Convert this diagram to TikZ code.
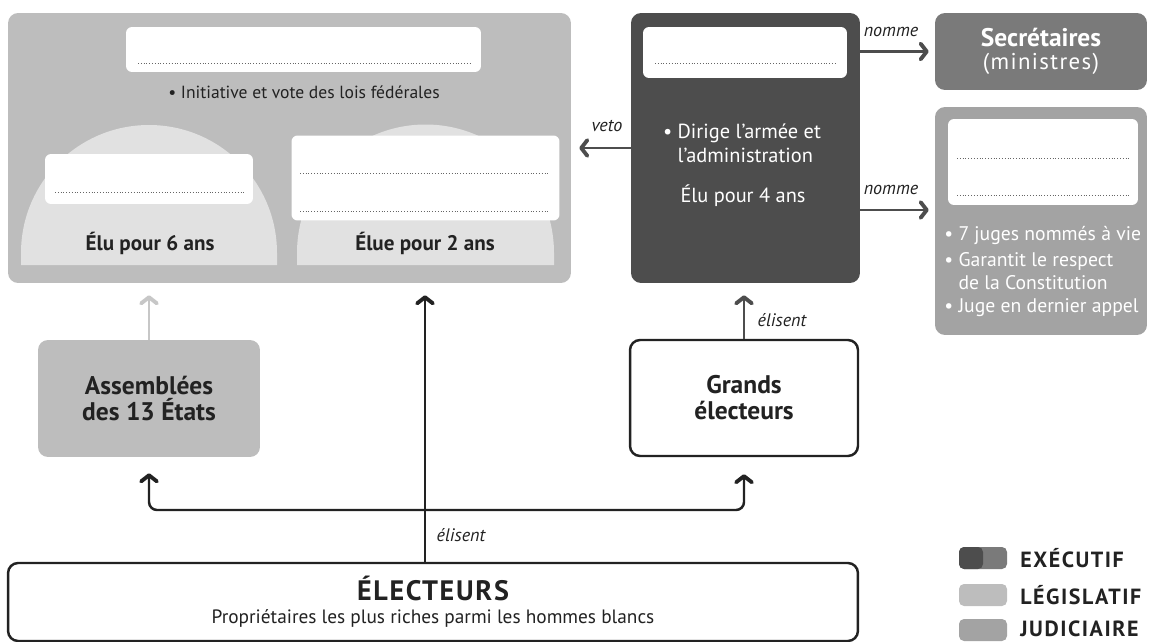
\documentclass[tikz,border=0pt]{standalone}
\usepackage{fontspec}
\setmainfont{PT Sans}
\usetikzlibrary{arrows.meta,positioning}
\definecolor{colExe}{HTML}{4D4D4D}
\definecolor{colExeClair}{HTML}{7A7A7A}
\definecolor{colLegis}{HTML}{BDBDBD}
\definecolor{colJudic}{HTML}{A3A3A3}
\definecolor{colDome}{HTML}{E1E1E1}
\definecolor{colEncre}{HTML}{222222}
\definecolor{colPoint}{HTML}{666666}

\tikzset{
  bloc/.style={rounded corners=0.2cm, inner sep=0pt, align=center},
  blanc/.style={fill=white, rounded corners=0.12cm, inner sep=0pt},
  txt/.style={text=colEncre, inner sep=0pt, font=\fontsize{10}{12}\selectfont},
  txtgras/.style={txt, font=\fontsize{12}{14}\selectfont\bfseries},
  txtblanc/.style={text=white, inner sep=0pt, font=\fontsize{11.6}{13.6}\selectfont},
  titre/.style={text=colEncre, font=\fontsize{14.5}{14.8}\selectfont\bfseries},
  etiq/.style={text=colEncre, inner sep=0pt, font=\fontsize{10.3}{12}\selectfont\itshape},
  pointille/.style={draw=colPoint, line width=0.5pt, dash pattern=on 0.5pt off 1.1pt},
  fleche/.style={draw=colEncre, line width=1.4pt,
    -{Straight Barb[length=3.5pt,width=9pt,line width=2.2pt,round]}},
  swatch/.style={rounded corners=0.1cm, minimum width=0.96cm, minimum height=0.44cm, inner sep=0pt},
  legende/.style={anchor=west, inner sep=0pt, text=colEncre,
    font=\fontsize{12.5}{14}\selectfont\bfseries\addfontfeature{LetterSpace=7}}
}

\begin{document}
\begin{tikzpicture}[x=0.02cm, y=-0.02cm]
    \useasboundingbox (0,0) rectangle (1149,642);

    % pouvoir legislatif
    \node[bloc, fill=colLegis, minimum width=11.26cm, minimum height=5.4cm] (legis) at (289.5,148) {};
    \fill[colDome] (21,265) -- (21,253) arc[start angle=180, end angle=360, radius=128] -- (277,265) -- cycle;
    \fill[colDome] (297,265) -- (297,253) arc[start angle=180, end angle=360, radius=128.5] -- (554,265) -- cycle;
    \node[blanc, minimum width=7.1cm, minimum height=0.9cm] (congres) at (303.5,49.5) {};
    \draw[pointille] (138,63) -- (470,63);
    \node[txt] (lois) at (304,92) {\textbullet\ Initiative et vote des lois fédérales};
    \node[blanc, minimum width=4.16cm, minimum height=1cm] (senat) at (149,179) {};
    \draw[pointille] (55,192) -- (244,192);
    \node[blanc, minimum width=5.36cm, minimum height=1.7cm] (chambre) at (425.5,178) {};
    \draw[pointille] (300,173) -- (550,173);
    \draw[pointille] (300,211) -- (550,211);
    \node[txtgras] (senat-mandat) at (150,243) {Élu pour 6 ans};
    \node[txtgras] (chambre-mandat) at (425,243) {Élue pour 2 ans};

    % pouvoir executif
    \node[bloc, fill=colExe, minimum width=4.58cm, minimum height=5.4cm] (exec) at (745.5,148) {};
    \node[blanc, minimum width=4.08cm, minimum height=1.02cm] (president) at (745,52.5) {};
    \draw[pointille] (655,63) -- (835,63);
    \node[txtblanc, align=left] (armee) at (742,143) {\textbullet\ Dirige l’armée et\\\phantom{\textbullet\ }l’administration};
    \node[txtblanc] (exec-mandat) at (743,196) {Élu pour 4 ans};

    \node[bloc, fill=colExeClair, minimum width=4.24cm, minimum height=1.54cm, text=white] (secretaires) at (1041,51.5)
        {{\fontsize{14.5}{16}\selectfont\bfseries Secrétaires}\\[1pt]{\fontsize{13}{15}\selectfont\addfontfeature{LetterSpace=6}(ministres)}};

    % pouvoir judiciaire
    \node[bloc, fill=colJudic, minimum width=4.24cm, minimum height=4.56cm] (juges) at (1041,221) {};
    \node[blanc, minimum width=3.8cm, minimum height=1.72cm] (cour) at (1043,162) {};
    \draw[pointille] (957,158) -- (1130,158);
    \draw[pointille] (957,195) -- (1130,195);
    \node[txtblanc, anchor=west, font=\fontsize{11.2}{13}\selectfont] (juge-1) at (944,235) {\textbullet\ 7 juges nommés à vie};
    \node[txtblanc, anchor=west, align=left, font=\fontsize{11.2}{13}\selectfont] (juge-2) at (944,271.5)
        {\textbullet\ Garantit le respect\\\phantom{\textbullet\ }de la Constitution};
    \node[txtblanc, anchor=west, font=\fontsize{11.2}{13}\selectfont] (juge-3) at (944,308) {\textbullet\ Juge en dernier appel};

    % electeurs
    \node[bloc, titre, fill=colLegis, minimum width=4.44cm, minimum height=2.34cm] (assemblees) at (149,398.5) {Assemblées\\des 13 États};
    \node[bloc, titre, draw=colEncre, line width=1.4pt, fill=white, minimum width=4.56cm, minimum height=2.32cm] (grands) at (744,398) {Grands\\électeurs};
    \node[bloc, draw=colEncre, line width=1.4pt, fill=white, minimum width=17cm, minimum height=1.56cm, text=colEncre] (electeurs) at (433,602)
        {{\fontsize{16}{17}\selectfont\bfseries\addfontfeature{LetterSpace=6}ÉLECTEURS}\\[1pt]{\fontsize{11}{13}\selectfont Propriétaires les plus riches parmi les hommes blancs}};

    \coordinate (fourche) at (425,510);
    \draw[fleche, shorten >=0.24cm] (fourche |- electeurs.north) -- (fourche |- legis.south);
    \draw[fleche, rounded corners=0.16cm, shorten >=0.32cm] (fourche) -| (assemblees.south);
    \draw[fleche, rounded corners=0.16cm, shorten >=0.34cm] (fourche) -| (grands.south);
    \draw[fleche, draw=colLegis!85!white, shorten >=0.24cm] (assemblees.north) -- (assemblees.north |- legis.south);
    \draw[fleche, draw=colExe, shorten >=0.24cm] (grands.north) -- (grands.north |- exec.south);
    \node[etiq] (elisent-1) at (461,535) {élisent};
    \node[etiq] (elisent-2) at (782,320) {élisent};

    % nominations et veto
    \coordinate (nomme-bas) at (0,210);
    \draw[fleche, draw=colExe, shorten >=0.16cm] (exec.west) -- (legis.east);
    \draw[fleche, draw=colExe, shorten >=0.12cm] (exec.east |- secretaires.west) -- (secretaires.west);
    \draw[fleche, draw=colExe, shorten >=0.12cm] (exec.east |- nomme-bas) -- (juges.west |- nomme-bas);
    \node[etiq] (veto) at (607,126) {veto};
    \node[etiq] (nomme-1) at (891,32) {nomme};
    \node[etiq] (nomme-2) at (891,190) {nomme};

    % legende
    \node[swatch, fill=colExeClair, path picture={\fill[colExe] (path picture bounding box.south west) rectangle (path picture bounding box.north);}] (leg-exe) at (983,558) {};
    \node[swatch, fill=colLegis] (leg-legis) at (983,595) {};
    \node[swatch, fill=colJudic] (leg-judic) at (983,630) {};
    \node[legende] at (1020,558) {EXÉCUTIF};
    \node[legende] at (1020,595) {LÉGISLATIF};
    \node[legende] at (1020,629) {JUDICIAIRE};
\end{tikzpicture}
\end{document}
